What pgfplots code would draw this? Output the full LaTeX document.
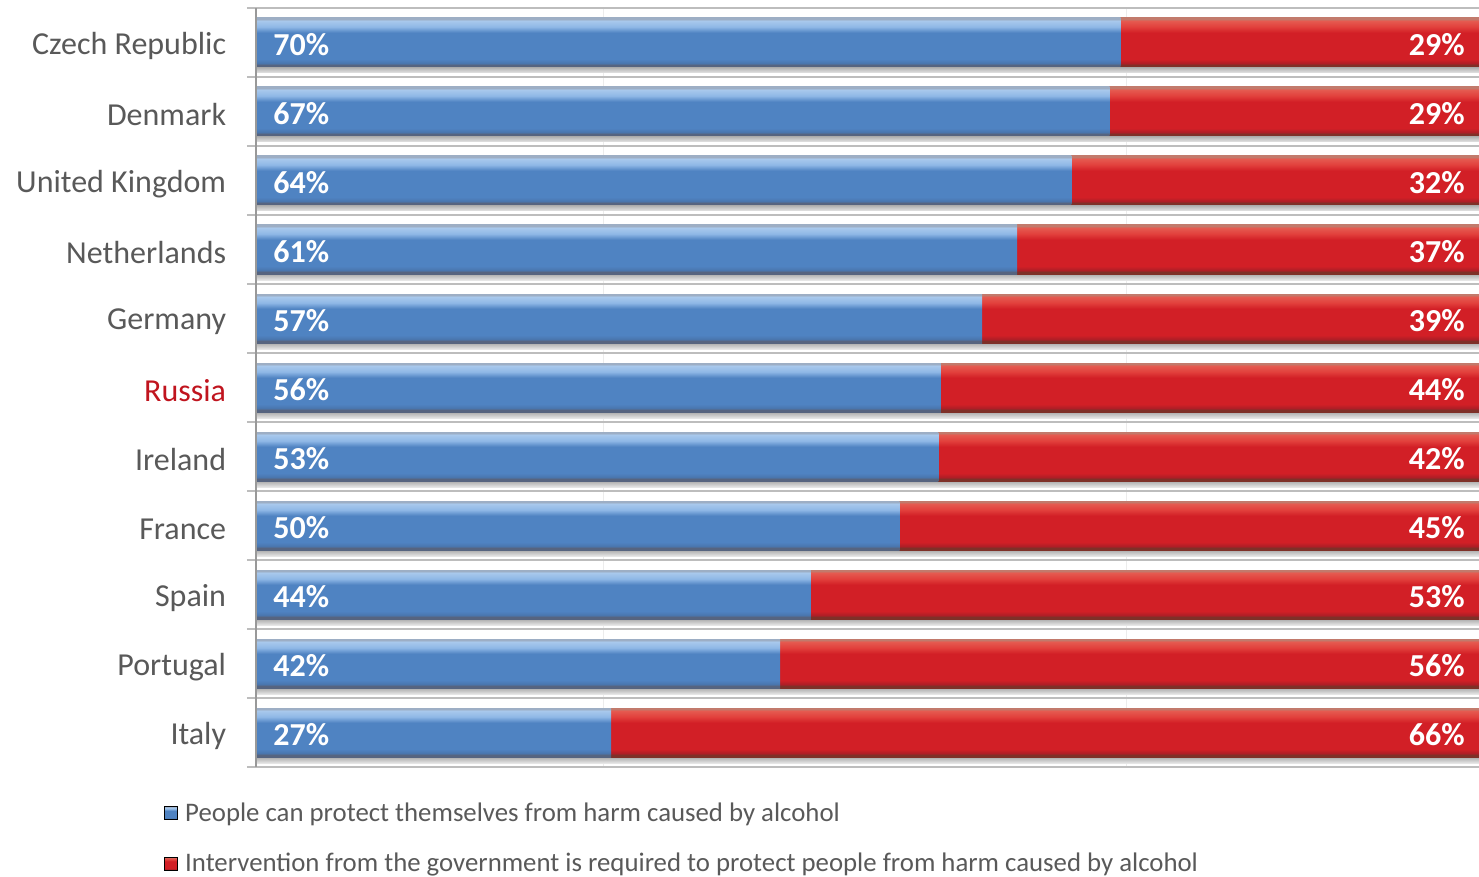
\documentclass[border=0pt]{standalone}
\usepackage{pgfplots}
\pgfplotsset{compat=1.18}
\usepackage{pgfplotstable}
\usepackage{fontspec}
\setmainfont{Carlito}
\definecolor{txtgray}{HTML}{595959}
\definecolor{rured}{HTML}{C0141E}
\definecolor{gridgray}{HTML}{BDBDBD}
\definecolor{bb1}{HTML}{56647F}
\definecolor{bb2}{HTML}{4A76AE}
\definecolor{bm}{HTML}{4F83C2}
\definecolor{bt1}{HTML}{8FB8E6}
\definecolor{bt2}{HTML}{A8C8EC}
\definecolor{bt3}{HTML}{9DAEC4}
\definecolor{rb1}{HTML}{7E3028}
\definecolor{rb2}{HTML}{B01E26}
\definecolor{rm}{HTML}{D21F26}
\definecolor{rt1}{HTML}{E2403C}
\definecolor{rt2}{HTML}{E55A50}
\definecolor{rt3}{HTML}{C27A6C}
\definecolor{sh1}{HTML}{E6E6E6}
\definecolor{sh2}{HTML}{ABABAB}
\pgfdeclareverticalshading{bluesh}{100bp}{color(0bp)=(bb1); color(25bp)=(bb1); color(27bp)=(bb1); color(29bp)=(bb2); color(33bp)=(bm); color(60bp)=(bm); color(66bp)=(bt1); color(72bp)=(bt2); color(74bp)=(bt3); color(75bp)=(bt3); color(100bp)=(bt3)}
\pgfdeclareverticalshading{redsh}{100bp}{color(0bp)=(rb1); color(25bp)=(rb1); color(27bp)=(rb1); color(29bp)=(rb2); color(33bp)=(rm); color(60bp)=(rm); color(66bp)=(rt1); color(72bp)=(rt2); color(74bp)=(rt3); color(75bp)=(rt3); color(100bp)=(rt3)}
\pgfdeclareverticalshading{shadowsh}{100bp}{color(0bp)=(sh1); color(25bp)=(sh1); color(75bp)=(sh2); color(100bp)=(sh2)}
\pgfplotstableread{
blue red
70 29
67 29
64 32
61 37
57 39
56 44
53 42
50 45
44 53
42 56
27 66
}\data
\begin{document}
\begin{tikzpicture}
\useasboundingbox (-128pt,-55pt) rectangle (611.5pt,383.5pt);
\begin{axis}[name=ax, at={(0,0)}, anchor=south west,
  scale only axis, width=611.5pt, height=379.5pt,
  xmin=0, xmax=100, ymin=-0.5, ymax=10.5, y dir=reverse,
  axis line style={draw=none},
  ytick={0,...,10},
  yticklabels={Czech Republic,Denmark,United Kingdom,Netherlands,Germany,\textcolor{rured}{Russia},Ireland,France,Spain,Portugal,Italy},
  yticklabel style={font=\fontsize{16}{19}\selectfont, text=txtgray, inner sep=0pt, xshift=-10.5pt, yshift=-1.75pt},
  major y tick style={draw=none},
  minor ytick={-0.5,0.5,...,10.5},
  minor tick length=4.5pt, tick align=outside, ytick pos=left,
  minor y tick style={gridgray, line width=0.8pt},
  yminorgrids=true,
  minor y grid style={gridgray, line width=0.8pt},
  xtick={28.4,71.2}, xticklabels={}, xmajorgrids=true,
  major x grid style={gray!15, line width=0.6pt},
  major x tick style={draw=none},
  legend style={at={(0,0)}, anchor=north west, xshift=-49pt, yshift=-15.5pt,
    draw=none, fill=none, font=\fontsize{13.4}{15}\selectfont, text=txtgray,
    row sep=14.5pt, column sep=3.5pt, nodes={inner sep=0pt}},
  legend cell align=left,
]
\addlegendimage{legend image code/.code={\shade[shading=bluesh] (0pt,-3.25pt) rectangle (6.5pt,3.25pt);}}
\addlegendentry{People can protect themselves from harm caused by alcohol}
\addlegendimage{legend image code/.code={\shade[shading=redsh] (0pt,-3.25pt) rectangle (6.5pt,3.25pt);}}
\addlegendentry{Intervention from the government is required to protect people from harm caused by alcohol}
\pgfplotsinvokeforeach{0,...,10}{
  \addplot[xbar, bar width=3pt, bar shift=-13.75pt, draw=none, shading=shadowsh, forget plot]
    table[x expr=100, y expr=\coordindex, restrict expr to domain={\coordindex}{#1:#1}] {\data};
  \addplot[xbar, bar width=24.5pt, bar shift=0pt, draw=none, shading=redsh, forget plot]
    table[x expr=100, y expr=\coordindex, restrict expr to domain={\coordindex}{#1:#1}] {\data};
  \addplot[xbar, bar width=24.5pt, bar shift=0pt, draw=none, shading=bluesh, forget plot]
    table[x expr={100*\thisrow{blue}/(\thisrow{blue}+\thisrow{red})}, y expr=\coordindex, restrict expr to domain={\coordindex}{#1:#1}] {\data};
}
\addplot[draw=none, mark=none, forget plot, point meta=explicit symbolic,
  nodes near coords={\pgfplotspointmeta\%},
  every node near coord/.append style={anchor=west, xshift=8.5pt, yshift=-1pt, inner sep=0pt, text=white, font=\fontsize{16}{19}\selectfont\bfseries}]
  table[x expr=0, y expr=\coordindex, meta=blue] {\data};
\addplot[draw=none, mark=none, forget plot, point meta=explicit symbolic,
  nodes near coords={\pgfplotspointmeta\%},
  every node near coord/.append style={anchor=east, xshift=-7pt, yshift=-1pt, inner sep=0pt, text=white, font=\fontsize{16}{19}\selectfont\bfseries}]
  table[x expr=100, y expr=\coordindex, meta=red] {\data};
\end{axis}
\draw[gray!80, line width=0.8pt] (ax.south west) -- (ax.north west);
\end{tikzpicture}
\end{document}
